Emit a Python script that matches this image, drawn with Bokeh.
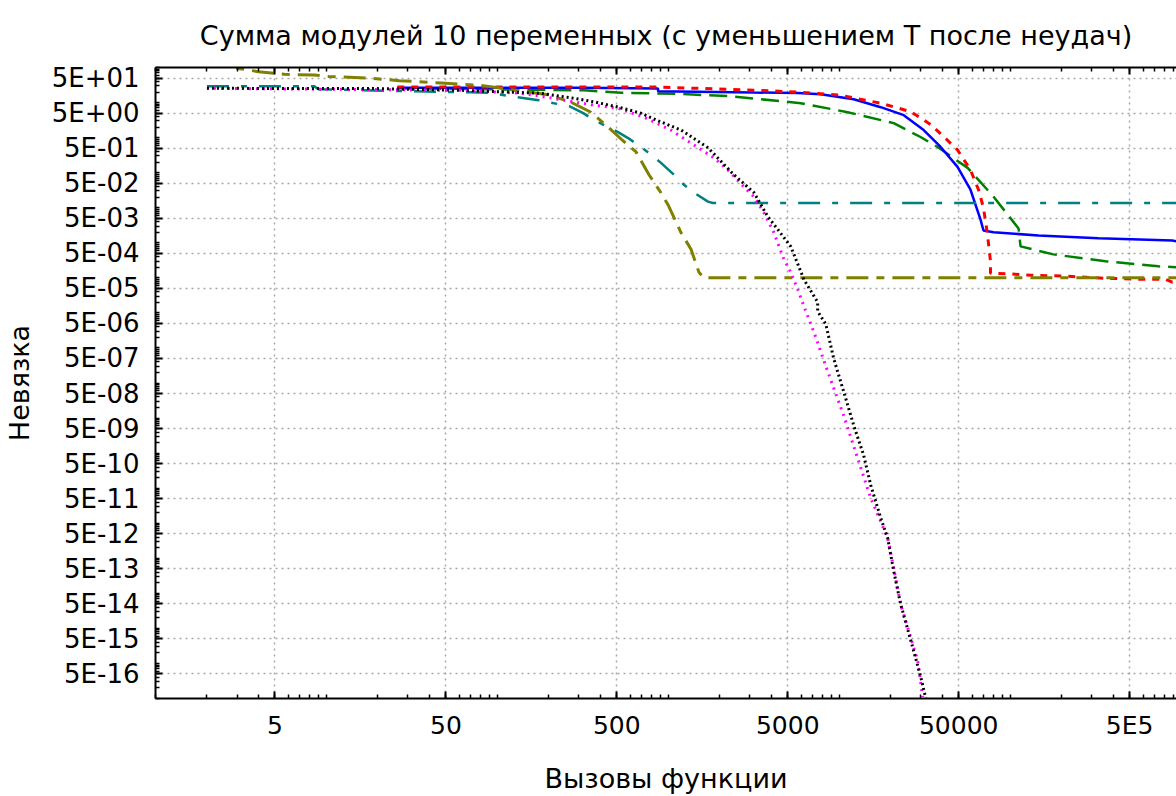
from bokeh.plotting import figure
from bokeh.models import FixedTicker, LogAxis, CustomJSTickFormatter
from bokeh.embed import file_html
from bokeh.resources import INLINE

# ---- axis ticks / labels ----
x_tick_values = [5, 50, 500, 5000, 50000, 500000]
x_tick_labels = ["5", "50", "500", "5000", "50000", "5E5"]
y_tick_values = [5e1, 5e0, 5e-1, 5e-2, 5e-3, 5e-4, 5e-5, 5e-6, 5e-7, 5e-8,
                 5e-9, 5e-10, 5e-11, 5e-12, 5e-13, 5e-14, 5e-15, 5e-16]
y_tick_labels = ["5E+01", "5E+00", "5E-01", "5E-02", "5E-03", "5E-04", "5E-05",
                 "5E-06", "5E-07", "5E-08", "5E-09", "5E-10", "5E-11", "5E-12",
                 "5E-13", "5E-14", "5E-15", "5E-16"]

title_text = "Сумма модулей 10 переменных (с уменьшением T после неудач)"
x_label = "Вызовы функции"
y_label = "Невязка"

# ---- series (function calls, residual) ----
green_x = [26, 321, 530, 1110, 2320, 4550, 5960, 11200, 20830, 29900, 37600,
           56400, 80000, 112000, 115000, 179000, 361000, 736000, 940000]
green_y = [25.5, 22.4, 19.0, 17.8, 15.1, 10.9, 9.57, 5.32, 2.59, 1.04, 0.54,
           0.137, 0.0206, 0.00255, 7.9e-4, 4.67e-4, 2.96e-4, 2.13e-4, 2.0e-4]

blue_x = [26, 309, 871, 871, 3165, 5720, 7800, 12150, 17490, 23850, 31200,
          39200, 49200, 58600, 67100, 69800, 80000, 146500, 328700, 889000, 940000]
blue_y = [26.5, 26.4, 25.0, 21.0, 19.3, 18.8, 17.3, 12.4, 7.38, 4.37, 1.64,
          0.541, 0.1465, 0.0326, 0.00459, 0.00224, 0.0020, 0.00161, 0.00135,
          0.00116, 0.00110]

red_x = [26, 871, 3165, 5720, 10200, 17490, 26200, 34300, 40800, 49200, 58600,
         65300, 69800, 73700, 76700, 76700, 100500, 131500, 205000, 361000,
         601000, 807000, 889000, 940000]
red_y = [28.0, 27.8, 22.4, 20.0, 16.1, 9.57, 5.5, 2.35, 1.07, 0.445, 0.12,
         0.0326, 0.01, 0.00172, 2.95e-4, 1.35e-4, 1.3e-4, 1.18e-4, 1.13e-4,
         9.7e-5, 9.1e-5, 9.1e-5, 7.5e-5, 7.5e-5]

teal_x = [2, 8.5, 9.0, 16, 70, 88, 175, 263, 318, 368, 508, 582, 692, 824, 906,
          1079, 1234, 1413, 1706, 1824, 940000]
teal_y = [29.0, 29.0, 24.0, 22.4, 19.6, 19.0, 11.6, 7.87, 4.99, 3.16, 1.44,
          0.97, 0.541, 0.281, 0.19, 0.0869, 0.0452, 0.0268, 0.0149, 0.0137, 0.0137]

olive_x = [2, 3.06, 4.0, 5.68, 8.5, 10.3, 18.3, 26.7, 47, 82.6, 105, 198, 270,
           353, 432, 537, 648, 771, 906, 996, 1186, 1358, 1511, 1618, 940000]
olive_y = [150, 94, 76, 63.7, 60.8, 55.8, 49, 42.2, 36, 30.4, 25.5, 16.7, 10.2,
           5.3, 2.28, 0.855, 0.39, 0.087, 0.0268, 0.0122, 0.00196, 6.5e-4,
           1.44e-4, 1.0e-4, 1.0e-4]

magenta_x = [2, 60, 138, 193, 368, 508, 720, 1035, 1413, 1848, 2234, 2660, 3170,
             3625, 4145, 4745, 5210, 5720, 6210, 7100, 8570, 10620, 12820, 15280,
             19220, 22900, 28770, 30800]
magenta_y = [25.5, 22.4, 18.4, 14.2, 8.4, 6.9, 3.84, 1.64, 0.616, 0.264, 0.120,
             0.0482, 0.0206, 0.00724, 0.00196, 3.4e-4, 1.44e-4, 4.7e-5, 1.56e-5,
             2.9e-6, 2.1e-7, 1.18e-8, 7.1e-10, 5.2e-11, 3.8e-12, 4.8e-14,
             1.2e-15, 1.1e-16]

black_x = [2, 20, 60, 180, 280, 370, 510, 690, 910, 1190, 1710, 2420, 3170, 3820,
           4370, 5210, 5800, 6210, 7480, 7480, 8340, 9290, 10620, 12150, 13900,
           15300, 17500, 19200, 20800, 22900, 26200, 30000, 32100]
black_y = [25.5, 25.0, 22.4, 18.4, 13.3, 10.4, 7.4, 5.0, 2.77, 1.64, 0.51, 0.087,
           0.027, 0.0056, 0.0024, 7.8e-4, 2.1e-4, 9.0e-5, 2.0e-5, 1.1e-5, 4.8e-6,
           4.9e-7, 5.7e-8, 6.2e-9, 8.7e-10, 1.2e-10, 1.4e-11, 3.8e-12, 4.5e-13,
           4.8e-14, 4.6e-15, 4.1e-16, 1.0e-16]

FONT = "DejaVu Sans"

x_minor = [m * 10.0 ** e for e in range(0, 7) for m in range(1, 10)]
y_minor = [m * 10.0 ** e for e in range(-17, 3) for m in range(1, 10)]

fmt_code = """
let best = 0, bd = 1e9;
for (let i = 0; i < vals.length; i++) {
  const d = Math.abs(Math.log10(tick) - Math.log10(vals[i]));
  if (d < bd) { bd = d; best = i; }
}
return labs[best];
"""

p = figure(width=1176, height=796, x_axis_type="log", y_axis_type="log",
           x_range=(1, 9.4e5), y_range=(1e-16, 100),
           output_backend="svg", toolbar_location=None,
           min_border_left=155, min_border_right=0,
           min_border_top=67, min_border_bottom=94)

p.title.text = title_text
p.title.align = "center"
p.title.vertical_align = "top"
p.title.text_font = FONT
p.title.text_font_size = "27px"
p.title.text_font_style = "normal"
p.title.text_color = "#000000"
p.title.standoff = 30

p.outline_line_color = None
p.background_fill_color = "white"
p.border_fill_color = "white"

xticker = FixedTicker(ticks=x_tick_values, minor_ticks=x_minor)
yticker = FixedTicker(ticks=y_tick_values, minor_ticks=y_minor)

xax = p.xaxis[0]
xax.ticker = xticker
xax.formatter = CustomJSTickFormatter(args=dict(vals=x_tick_values, labs=x_tick_labels), code=fmt_code)
yax = p.yaxis[0]
yax.ticker = yticker
yax.formatter = CustomJSTickFormatter(args=dict(vals=y_tick_values, labs=y_tick_labels), code=fmt_code)

top = LogAxis(ticker=xticker,
              formatter=CustomJSTickFormatter(code="return ' ';"),
              major_label_text_font_size="2px", major_label_text_alpha=0,
              major_label_standoff=0)
p.add_layout(top, "above")

for ax in (xax, yax, top):
    ax.axis_line_color = "black"
    ax.axis_line_width = 2
    ax.major_tick_in = 7
    ax.major_tick_out = 0
    ax.minor_tick_in = 4
    ax.minor_tick_out = 0
    ax.major_tick_line_width = 2
    ax.minor_tick_line_width = 1.5
    ax.major_tick_line_color = "black"
    ax.minor_tick_line_color = "black"

for ax in (xax, yax):
    ax.major_label_text_font = FONT
    ax.major_label_text_color = "black"
    ax.axis_label_text_font = FONT
    ax.axis_label_text_font_size = "27px"
    ax.axis_label_text_font_style = "normal"
    ax.axis_label_text_color = "black"

xax.major_label_text_font_size = "25px"
yax.major_label_text_font_size = "26px"

xax.axis_label = x_label
yax.axis_label = y_label
xax.major_label_standoff = 12
xax.axis_label_standoff = 20
yax.major_label_standoff = 16
yax.axis_label_standoff = 14

p.xgrid.ticker = xticker
p.ygrid.ticker = yticker
for g in (p.xgrid, p.ygrid):
    g.grid_line_color = "#a8a8a8"
    g.grid_line_dash = "2 4"
    g.grid_line_width = 1.5

p.line(green_x, green_y, line_color="#008000", line_width=2.5, line_dash="18 8")
p.line(blue_x, blue_y, line_color="#0000ff", line_width=2.5)
p.line(red_x, red_y, line_color="#ff0000", line_width=3, line_dash="7 7")
p.line(teal_x, teal_y, line_color="#008080", line_width=2.5, line_dash="22 12 6 12")
p.line(olive_x, olive_y, line_color="#808000", line_width=3, line_dash="22 8 8 8")
p.line(magenta_x, magenta_y, line_color="#ff00ff", line_width=3, line_dash="2 5")
p.line(black_x, black_y, line_color="#000000", line_width=3, line_dash="2 3")

open("out.html", "w").write(file_html(p, INLINE))
